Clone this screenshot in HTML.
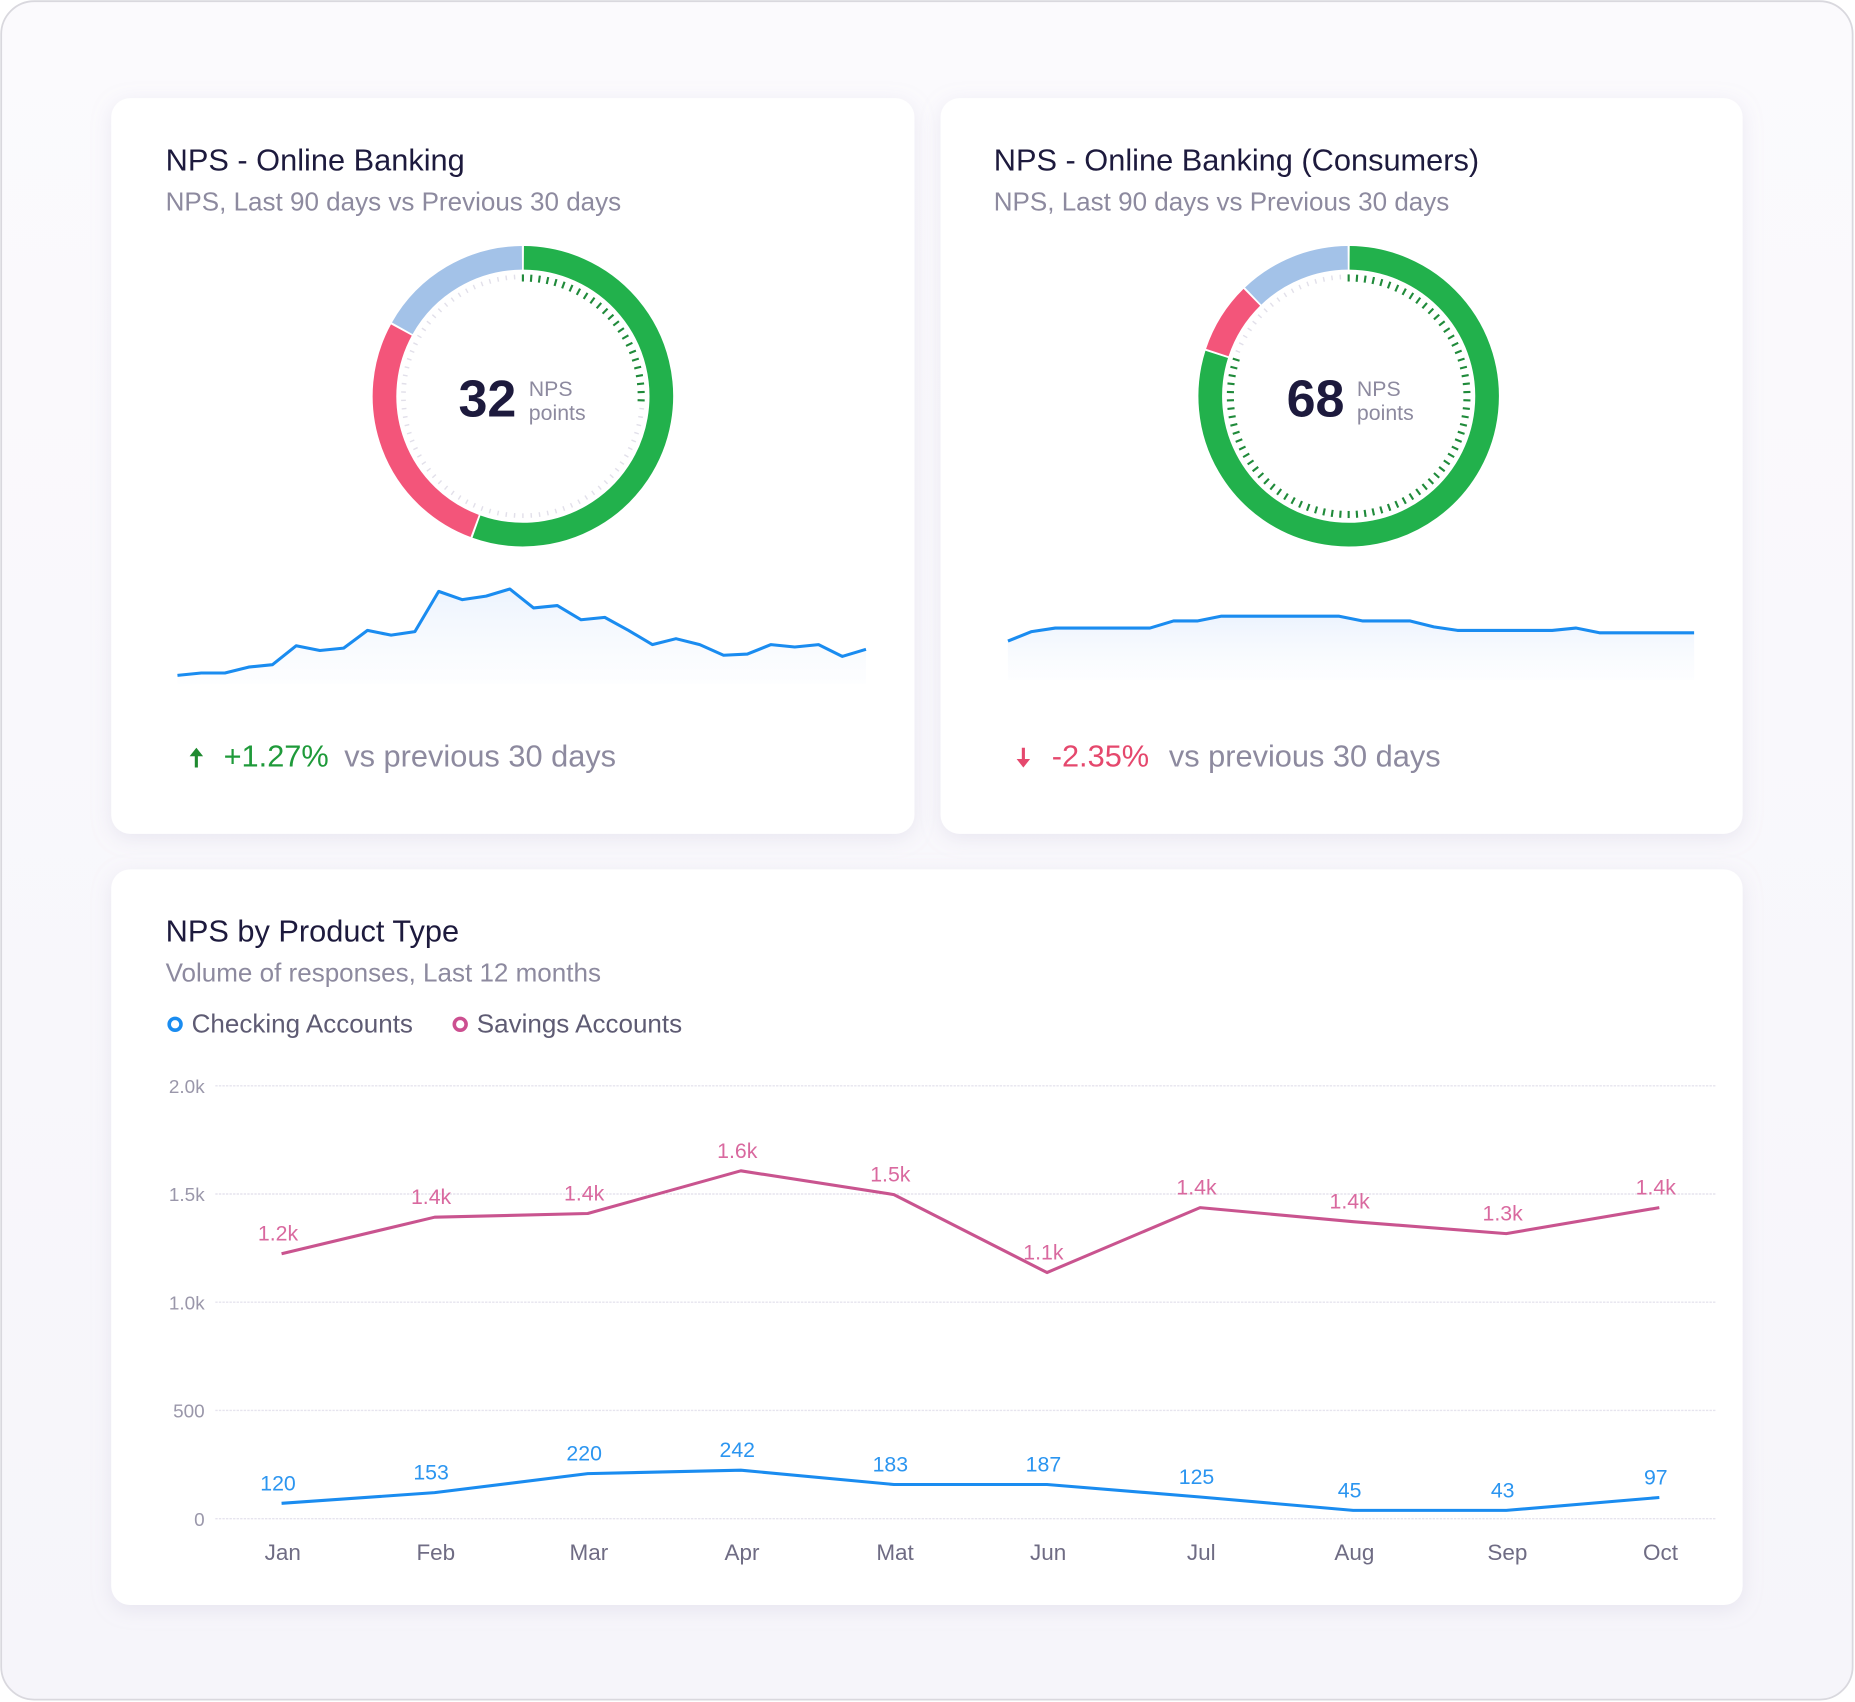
<!DOCTYPE html>
<html><head><meta charset="utf-8">
<style>
html,body{margin:0;padding:0;background:#fff;}
body{width:1855px;height:1702px;overflow:hidden;font-family:"Liberation Sans",sans-serif;}
svg{display:block;}
</style></head>
<body>
<svg id="root" width="1855" height="1702" viewBox="0 0 1568 1439" preserveAspectRatio="none" xmlns="http://www.w3.org/2000/svg">
<defs>
  <linearGradient id="bgGrad" x1="0" y1="0" x2="0" y2="1">
    <stop offset="0" stop-color="#fbfafd"/><stop offset="1" stop-color="#f6f5fa"/>
  </linearGradient>
  <linearGradient id="sparkFill" x1="0" y1="0" x2="0" y2="1">
    <stop offset="0" stop-color="#eaf2fd" stop-opacity="0.9"/><stop offset="1" stop-color="#f5f8fe" stop-opacity="0.2"/>
  </linearGradient>
  <filter id="shadow" x="-10%" y="-10%" width="120%" height="120%">
    <feDropShadow dx="0" dy="4" stdDeviation="8" flood-color="#b8b3d0" flood-opacity="0.25"/>
  </filter>
</defs>
<rect x="1" y="1" width="1565" height="1436" rx="28" fill="url(#bgGrad)" stroke="#d9d8de" stroke-width="1.5"/>

<g>
  <rect x="94" y="83" width="679" height="622" rx="16" fill="#fff" filter="url(#shadow)"/>
  <text x="140" y="144" font-size="26" fill="#1d1a3d" font-weight="500">NPS - Online Banking</text>
  <text x="140" y="178" font-size="22" fill="#8d8a9f">NPS, Last 90 days vs Previous 30 days</text>
  <g id="donut1"></g>
  <text x="412" y="352" font-size="44" font-weight="bold" fill="#1d1a3d" text-anchor="middle">32</text>
  <text x="447" y="335" font-size="18" fill="#8d8a9f">NPS</text>
  <text x="447" y="355" font-size="18" fill="#8d8a9f">points</text>
  <g id="spark1"></g>
  <text x="160" y="648" font-size="22" fill="#1f8a30" font-weight="bold">🠅</text>
  <text x="189" y="648" font-size="26" fill="#1f9a3a">+1.27%</text>
  <text x="291" y="648" font-size="26" fill="#8d8a9f">vs previous 30 days</text>
</g>

<g>
  <rect x="795" y="83" width="678" height="622" rx="16" fill="#fff" filter="url(#shadow)"/>
  <text x="840" y="144" font-size="26" fill="#1d1a3d" font-weight="500">NPS - Online Banking (Consumers)</text>
  <text x="840" y="178" font-size="22" fill="#8d8a9f">NPS, Last 90 days vs Previous 30 days</text>
  <g id="donut2"></g>
  <text x="1112" y="352" font-size="44" font-weight="bold" fill="#1d1a3d" text-anchor="middle">68</text>
  <text x="1147" y="335" font-size="18" fill="#8d8a9f">NPS</text>
  <text x="1147" y="355" font-size="18" fill="#8d8a9f">points</text>
  <g id="spark2"></g>
  <text x="859" y="648" font-size="22" fill="#e5486d" font-weight="bold">🠇</text>
  <text x="889" y="648" font-size="26" fill="#e5486d">-2.35%</text>
  <text x="988" y="648" font-size="26" fill="#8d8a9f">vs previous 30 days</text>
</g>

<g>
  <rect x="94" y="735" width="1379" height="622" rx="16" fill="#fff" filter="url(#shadow)"/>
  <text x="140" y="796" font-size="26" fill="#1d1a3d" font-weight="500">NPS by Product Type</text>
  <text x="140" y="830" font-size="22" fill="#8d8a9f">Volume of responses, Last 12 months</text>
  <g>
    <circle cx="148" cy="866" r="5" fill="none" stroke="#1a8cf0" stroke-width="3"/>
    <text x="162" y="873" font-size="22" fill="#5e5b73">Checking Accounts</text>
  </g>
  <g>
    <circle cx="389" cy="866" r="5" fill="none" stroke="#cc4f90" stroke-width="3"/>
    <text x="403" y="873" font-size="22" fill="#5e5b73">Savings Accounts</text>
  </g>
  <g id="lineChart"></g>
</g>
</svg>

<script>
// ---- Donut data ----
var donut1Segments = [200, 99, 61];   // green, red, blue (degrees)
var donut2Segments = [288, 28, 44];
var donut1DarkTicks = 95;
var donut2DarkTicks = 290;
// ---- Sparkline data ----
var spark1Values = [1,3,3,8,10,26,22,24,39,35,38,72,65,68,74,58,60,48,50,39,27,32,27,18,19,27,25,27,17,23];
var spark2Values = [0,8,11,11,11,11,11,17,17,21,21,21,21,21,21,17,17,17,12,9,9,9,9,9,11,7,7,7,7,7];
// ---- Line chart data ----
var months = ["Jan","Feb","Mar","Apr","Mat","Jun","Jul","Aug","Sep","Oct"];
var savingsValues = [1224,1393,1410,1607,1497,1137,1437,1372,1317,1437];
var savingsLabels = ["1.2k","1.4k","1.4k","1.6k","1.5k","1.1k","1.4k","1.4k","1.3k","1.4k"];
var checkingValues = [71,120,208,224,158,158,100,38,38,98];
var checkingLabels = ["120","153","220","242","183","187","125","45","43","97"];
var yTicks = [0,500,1000,1500,2000];
var yTickLabels = ["0","500","1.0k","1.5k","2.0k"];

var NS = "http://www.w3.org/2000/svg";
function mk(tag, attrs, parent){var e=document.createElementNS(NS,tag);for(var k in attrs)e.setAttribute(k,attrs[k]);parent.appendChild(e);return e;}
function pt(cx,cy,r,deg){var a=(deg-90)*Math.PI/180;return [cx+r*Math.cos(a),cy+r*Math.sin(a)];}

function drawDonut(g, cx, cy, segs, dark){
  var colors=["#22b14c","#f3557a","#a3c2e8"], names=["promoters-arc","detractors-arc","passives-arc"];
  var r=117, start=0;
  for(var i=0;i<segs.length;i++){
    var end=start+segs[i];
    var a=pt(cx,cy,r,start+0.4), b=pt(cx,cy,r,end-0.4);
    var p=mk("path",{d:"M"+a[0]+" "+a[1]+" A"+r+" "+r+" 0 "+(segs[i]>180?1:0)+" 1 "+b[0]+" "+b[1],fill:"none",stroke:colors[i],"stroke-width":20},g);
    
    
    start=end;
  }
  for(var d=0; d<360; d+=4){
    var isDark=d<=dark;
    var p1=pt(cx,cy,103,d), p2=pt(cx,cy,isDark?97:99,d);
    var t=mk("line",{x1:p1[0],y1:p1[1],x2:p2[0],y2:p2[1],stroke:isDark?"#1f8a3a":"#e2e0ea","stroke-width":isDark?1.8:1.2},g);
    
    
  }
}
drawDonut(document.getElementById("donut1"),442,335,donut1Segments,donut1DarkTicks);
drawDonut(document.getElementById("donut2"),1140,335,donut2Segments,donut2DarkTicks);

function drawSpark(g, vals, x0, x1, yBase, yTop, vmax, fillBottom){
  var n=vals.length, pts=[];
  for(var i=0;i<n;i++){pts.push([x0+(x1-x0)*i/(n-1), yBase-(yBase-yTop)*vals[i]/vmax]);}
  var d="M"+pts.map(function(p){return p[0].toFixed(1)+" "+p[1].toFixed(1);}).join(" L");
  var f=mk("path",{d:d+" L"+x1+" "+fillBottom+" L"+x0+" "+fillBottom+" Z",fill:"url(#sparkFill)"},g);
  
  
  var l=mk("path",{d:d,fill:"none",stroke:"#1a8cf0","stroke-width":2.6,"stroke-linejoin":"round"},g);
  
  
}
drawSpark(document.getElementById("spark1"),spark1Values,150,732,572,498,74,578);
drawSpark(document.getElementById("spark2"),spark2Values,852,1432,542,521,21,575);

// line chart
var lc=document.getElementById("lineChart");
var X0=238, XSTEP=129.4, Y0=1284, YPX=366/2000;
function xs(i){return X0+i*XSTEP;}
function ys(v){return Y0-v*YPX;}
yTicks.forEach(function(t,i){
  var gl=mk("line",{x1:182,x2:1450,y1:ys(t),y2:ys(t),stroke:"#e6e4ee","stroke-width":1.2,"stroke-dasharray":"2 1"},lc);
  
  
  var tl=mk("text",{x:173,y:ys(t)+6,"font-size":16,fill:"#9a97aa","text-anchor":"end"},lc);
  tl.textContent=yTickLabels[i];
  
  
});
months.forEach(function(m,i){
  var t=mk("text",{x:xs(i)+1,y:1319,"font-size":19,fill:"#6f6c84","text-anchor":"middle"},lc);
  t.textContent=m;
  
  
});
function drawSeries(vals, labels, color, lblColor, name){
  var d="M"+vals.map(function(v,i){return xs(i).toFixed(1)+" "+ys(v).toFixed(1);}).join(" L");
  var p=mk("path",{d:d,fill:"none",stroke:color,"stroke-width":2.6,"stroke-linejoin":"round"},lc);
  
  
  vals.forEach(function(v,i){
    var t=mk("text",{x:xs(i)-3,y:ys(v)-11,"font-size":18,fill:lblColor,"text-anchor":"middle"},lc);
    t.textContent=labels[i];
    
    
  });
}
drawSeries(savingsValues,savingsLabels,"#c9548f","#d9699f","savings");
drawSeries(checkingValues,checkingLabels,"#1a8cf0","#2b95f0","checking");
</script>
</body></html>
